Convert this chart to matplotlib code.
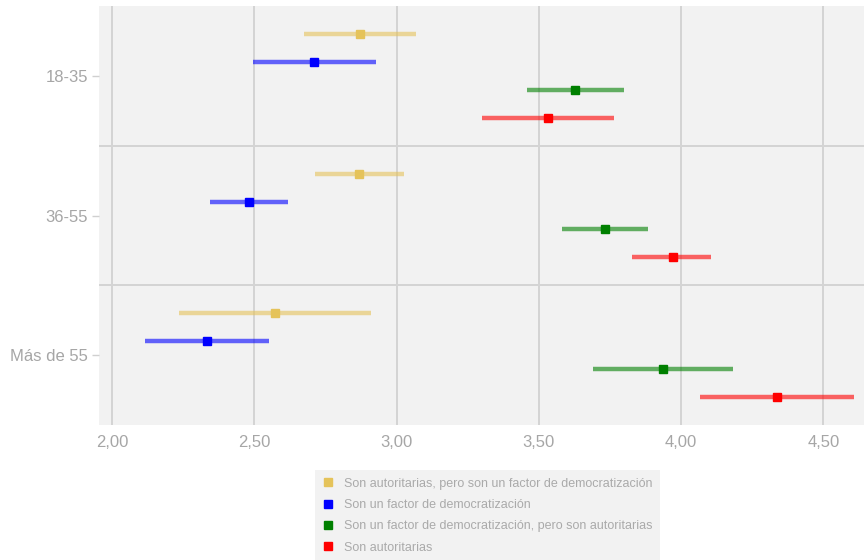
import matplotlib.pyplot as plt
import numpy as np
from matplotlib.lines import Line2D

plt.rcParams['font.family'] = ['Liberation Sans', 'DejaVu Sans']

groups = ['18-35', '36-55', 'Más de 55']
series = ['Son autoritarias, pero son un factor de democratización',
          'Son un factor de democratización',
          'Son un factor de democratización, pero son autoritarias',
          'Son autoritarias']
colors = ['#e5c35a', '#0000ff', '#008000', '#ff0000']

# point estimate, lower, upper per series (rows) and group (columns)
means = [[2.872, 2.868, 2.573],
         [2.710, 2.482, 2.334],
         [3.627, 3.733, 3.937],
         [3.532, 3.972, 4.337]]
lows = [[2.675, 2.714, 2.236],
        [2.496, 2.344, 2.116],
        [3.459, 3.582, 3.692],
        [3.300, 3.828, 4.068]]
highs = [[3.069, 3.026, 2.910],
         [2.928, 2.619, 2.550],
         [3.800, 3.884, 4.182],
         [3.764, 4.105, 4.607]]
xticks = [2.0, 2.5, 3.0, 3.5, 4.0, 4.5]
xlabels = ['2,00', '2,50', '3,00', '3,50', '4,00', '4,50']

offsets = [-0.3, -0.1, 0.1, 0.3]

fig = plt.figure(figsize=(8.64, 5.6), dpi=100)
ax = fig.add_axes([99 / 864, 1 - 425 / 560, 1 - 99 / 864, 419 / 560])
ax.set_facecolor('#f2f2f2')

ypos = np.arange(len(groups))
for s in range(len(series)):
    y = ypos + offsets[s]
    ax.hlines(y, lows[s], highs[s], color=colors[s], alpha=0.6, lw=3.2, zorder=3)
    ax.plot(means[s], y, 's', color=colors[s], ms=6, zorder=4, ls='none')

for xv in xticks:
    ax.axvline(xv, color='#d4d4d4', lw=1.4, zorder=1)
for b in [0.5, 1.5]:
    ax.axhline(b, color='#d4d4d4', lw=1.4, zorder=1)

ax.set_xlim(1.954, 4.643)
ax.set_ylim(2.5, -0.5)
ax.set_xticks(xticks)
ax.set_xticklabels(xlabels)
ax.set_yticks(ypos)
ax.set_yticklabels(groups)
ax.tick_params(axis='x', length=0, pad=7, labelsize=12, labelcolor='#a6a6a6')
ax.tick_params(axis='y', length=5, width=1, color='#d0d0d0', pad=3,
               labelsize=12, labelcolor='#a6a6a6')
for sp in ax.spines.values():
    sp.set_visible(False)

handles = [Line2D([], [], marker='s', ls='none', color=c, ms=6) for c in colors]
leg = fig.legend(handles, series, loc='upper left',
                 bbox_to_anchor=(315 / 864, 1 - 470 / 560), borderaxespad=0,
                 frameon=True, fancybox=False, facecolor='#f2f2f2',
                 edgecolor='none', framealpha=1, fontsize=9,
                 labelcolor='#aaaaaa', handlelength=0.8, handletextpad=0.9,
                 labelspacing=0.75, borderpad=0.6)

fig.savefig('out.png', dpi=100)
